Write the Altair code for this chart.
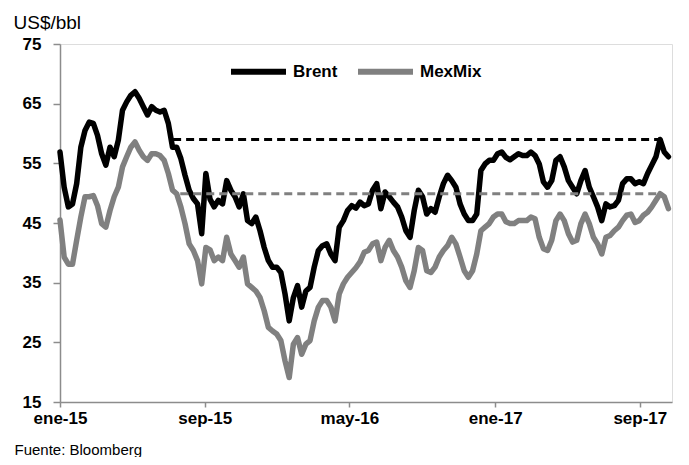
import altair as alt
import pandas as pd

# weekly observations starting 2015-01-01
dates = pd.date_range("2015-01-01", periods=147, freq="7D").strftime("%Y-%m-%d").tolist()

brent = [
    56.9, 51.0, 47.7, 48.2, 51.6, 57.7, 60.5, 61.9, 61.7, 59.7,
    56.6, 54.7, 57.7, 56.1, 58.9, 63.9, 65.3, 66.4, 67.0, 65.9,
    64.5, 63.1, 64.5, 63.9, 63.6, 63.9, 61.7, 57.7, 57.7, 55.8,
    53.0, 50.5, 49.1, 48.2, 43.2, 53.3, 49.0, 47.7, 48.8, 48.2,
    52.1, 50.5, 49.4, 47.7, 49.9, 45.4, 44.9, 46.0, 43.7, 40.9,
    38.7, 37.6, 37.6, 36.7, 33.1, 28.6, 32.5, 34.5, 30.9, 33.6,
    34.2, 37.6, 40.4, 41.2, 41.5, 39.8, 38.7, 44.3, 45.4, 47.1,
    47.9, 47.5, 48.5, 47.9, 48.2, 50.5, 51.6, 47.4, 50.2, 49.4,
    48.5, 47.7, 46.0, 43.7, 42.6, 47.1, 50.5, 49.4, 46.5, 47.4,
    46.8, 49.4, 51.6, 53.0, 52.1, 51.0, 48.2, 46.5, 45.4, 45.4,
    46.5, 53.8, 54.9, 55.5, 55.5, 56.6, 56.9, 56.0, 55.6, 56.1,
    56.6, 56.3, 56.3, 56.9, 56.3, 54.9, 51.9, 51.0, 52.1, 55.5,
    56.1, 54.4, 52.1, 51.0, 49.9, 52.1, 53.8, 51.0, 49.4, 47.7,
    45.4, 48.2, 47.7, 47.9, 48.8, 51.6, 52.4, 52.4, 51.6, 51.9,
    51.6, 53.3, 54.7, 56.1, 59.0, 56.9, 56.1,
]

mexmix = [
    45.5, 39.3, 38.1, 38.1, 42.1, 46.0, 49.4, 49.4, 49.6, 47.9,
    44.9, 44.3, 47.1, 49.4, 51.0, 54.4, 56.1, 57.7, 58.6, 57.2,
    56.1, 55.5, 56.6, 56.6, 56.3, 55.5, 53.3, 50.5, 49.9, 47.7,
    44.9, 41.5, 40.4, 38.7, 34.8, 40.9, 40.5, 38.7, 39.3, 38.7,
    42.6, 39.8, 38.7, 37.6, 39.3, 34.8, 34.2, 33.6, 32.5, 30.3,
    27.5, 26.9, 26.4, 25.3, 21.9, 19.1, 24.7, 25.8, 23.0, 24.7,
    25.3, 28.6, 30.9, 32.0, 32.0, 30.9, 28.6, 33.1, 34.8, 35.9,
    36.7, 37.5, 38.5, 40.1, 40.4, 41.5, 41.8, 38.7, 40.9, 42.1,
    40.4, 39.3, 37.6, 35.3, 34.2, 37.0, 40.9, 40.4, 37.0, 36.7,
    37.6, 39.3, 40.4, 41.2, 42.6, 41.5, 39.3, 37.0, 35.9, 37.0,
    39.8, 43.7, 44.3, 44.9, 46.0, 46.5, 46.5, 45.2, 44.9, 44.9,
    45.4, 45.4, 45.4, 46.0, 45.7, 42.6, 40.7, 40.4, 42.1, 45.4,
    46.5, 45.4, 43.2, 41.8, 42.1, 44.9, 46.5, 44.9, 42.6, 41.5,
    39.8, 42.6, 42.9, 43.7, 44.3, 45.4, 46.3, 46.5, 45.1, 45.4,
    46.3, 46.8, 47.7, 48.8, 49.9, 49.4, 47.4,
]

series = ["Brent", "MexMix"]
colors = ["#000000", "#808080"]
ref_level = [59.0, 49.9]
ref_start = ["2015-07-10", "2015-07-22"]
ref_end = ["2017-10-05", "2017-10-08"]
y_ticks = [15, 25, 35, 45, 55, 65, 75]
tick_dates = [(2015, 1), (2015, 9), (2016, 5), (2017, 1), (2017, 9)]

n = len(dates)
df = pd.DataFrame({
    "fecha": dates * 2,
    "serie": ["Brent"] * n + ["MexMix"] * n,
    "valor": brent + mexmix,
})
ref = pd.DataFrame({"serie": series, "nivel": ref_level, "inicio": ref_start, "fin": ref_end})

FONT = "Liberation Sans, Arial, sans-serif"
AXIS_GRAY = "#8c8c8c"

color_scale = alt.Scale(domain=series, range=colors)
x_scale = alt.Scale(
    type="utc",
    domain=[alt.DateTime(year=2015, month=1, date=1, utc=True),
            alt.DateTime(year=2017, month=10, date=25, utc=True)],
)
y_scale = alt.Scale(domain=[15, 75], nice=False, zero=False)

x_axis = alt.Axis(
    values=[alt.DateTime(year=y, month=m, date=1, utc=True) for y, m in tick_dates],
    labelExpr="['ene','feb','mar','abr','may','jun','jul','ago','sep','oct','nov','dic'][utcmonth(datum.value)] + '-' + utcFormat(datum.value, '%y')",
    grid=False,
    domainColor=AXIS_GRAY, domainWidth=1.5,
    tickColor=AXIS_GRAY, tickWidth=1.5, tickSize=5,
    labelFont=FONT, labelFontSize=17, labelFontWeight="bold", labelColor="#000000",
    labelPadding=3, labelFlush=False, labelOverlap=False,
    title="Fuente: Bloomberg", titleFont=FONT,
    titleFontSize=15, titleFontWeight="normal", titleColor="#000000",
    titleX=-46, titleY=52, titleAlign="left", titleBaseline="alphabetic", titleAnchor="start",
)
y_axis = alt.Axis(
    values=y_ticks, grid=False,
    domainColor=AXIS_GRAY, domainWidth=1.5,
    tickColor=AXIS_GRAY, tickWidth=1.5, tickSize=7,
    labelFont=FONT, labelFontSize=17, labelFontWeight="bold", labelColor="#000000",
    labelPadding=12, labelFlush=False,
    title="US$/bbl", titleFont=FONT,
    titleFontSize=19, titleFontWeight="normal", titleColor="#000000",
    titleAngle=0, titleX=-47, titleY=-16, titleAlign="left", titleBaseline="alphabetic",
)

lines = alt.Chart(df).mark_line(strokeWidth=5.5, strokeJoin="round", strokeCap="round").encode(
    x=alt.X("fecha:T", scale=x_scale, axis=x_axis),
    y=alt.Y("valor:Q", scale=y_scale, axis=y_axis),
    color=alt.Color(
        "serie:N", scale=color_scale,
        legend=alt.Legend(
            title=None, orient="none", legendX=168, legendY=-3, direction="horizontal",
            symbolType="stroke", symbolSize=3025, symbolStrokeWidth=6,
            labelFont=FONT, labelFontSize=17, labelFontWeight="bold", labelColor="#000000",
            labelOffset=4, columnPadding=8,
        ),
    ),
)

rules = alt.Chart(ref).mark_rule(strokeWidth=3, strokeDash=[8, 5]).encode(
    x=alt.X("inicio:T", scale=x_scale),
    x2="fin:T",
    y=alt.Y("nivel:Q", scale=y_scale),
    color=alt.Color("serie:N", scale=color_scale, legend=None),
)

chart = alt.layer(lines, rules).properties(
    width=612, height=358,
    autosize=alt.AutoSizeParams(type="none"),
    padding={"left": 52, "top": 36, "right": 9, "bottom": 55},
).configure_view(stroke=None).configure(background="#ffffff")

chart.save("out.html", embed_options={"renderer": "svg", "actions": False})
